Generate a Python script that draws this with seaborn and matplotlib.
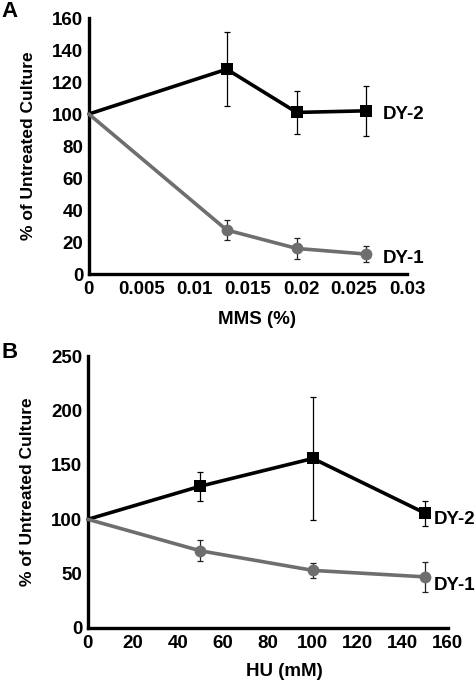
import matplotlib
matplotlib.use("Agg")
import matplotlib.pyplot as plt
import seaborn as sns
import pandas as pd

sns.set_theme(style="white")
plt.rcParams['font.family'] = ['Liberation Sans', 'DejaVu Sans']
plt.rcParams['font.weight'] = 'bold'
plt.rcParams['text.color'] = 'black'
plt.rcParams['axes.labelcolor'] = 'black'
plt.rcParams['xtick.color'] = 'black'
plt.rcParams['ytick.color'] = 'black'

# Panel A: MMS
mms_x = [0, 0.013, 0.0196, 0.0261]
mms_dy2 = [100, 128, 101, 102]
mms_dy2_err = [0, 23, 13.5, 15.5]
mms_dy1 = [100, 27.5, 16, 12.5]
mms_dy1_err = [0, 6, 6.5, 5]
mms_xticks = [0, 0.005, 0.01, 0.015, 0.02, 0.025, 0.03]
mms_xticklabels = ['0', '0.005', '0.01', '0.015', '0.02', '0.025', '0.03']
mms_yticks = [0, 20, 40, 60, 80, 100, 120, 140, 160]

# Panel B: HU
hu_x = [0, 50, 100, 150]
hu_dy2 = [100, 130.5, 156, 105.5]
hu_dy2_err = [0, 13.5, 56.5, 11.5]
hu_dy1 = [100, 71, 53, 47]
hu_dy1_err = [0, 9.7, 7, 14]
hu_xticks = [0, 20, 40, 60, 80, 100, 120, 140, 160]
hu_yticks = [0, 50, 100, 150, 200, 250]

BLACK = '#000000'
GRAY = '#6e6e6e'
FS = 13.5

fig = plt.figure(figsize=(4.75, 6.8), dpi=100)
axA = fig.add_axes([0.187, 0.597, 0.670, 0.3765])
axB = fig.add_axes([0.185, 0.0765, 0.758, 0.3995])


def draw(ax, x, dy2, e2, dy1, e1):
    df = pd.DataFrame({'x': x + x,
                       'y': dy2 + dy1,
                       'strain': ['DY-2'] * len(x) + ['DY-1'] * len(x)})
    for strain, ys, es, col, mk, ms in [('DY-2', dy2, e2, BLACK, 's', 8.5),
                                        ('DY-1', dy1, e1, GRAY, 'o', 8.5)]:
        ax.errorbar(x[1:], ys[1:], yerr=es[1:], fmt='none',
                    ecolor=col if strain == 'DY-2' else '#222222',
                    elinewidth=0.9, capsize=2.5, capthick=0.9, zorder=2)
        sub = df[df['strain'] == strain]
        sns.lineplot(data=sub, x='x', y='y', ax=ax, color=col, linewidth=2.6,
                     legend=False, zorder=3, estimator=None)
        sns.scatterplot(x=x[1:], y=ys[1:], ax=ax, color=col, marker=mk,
                        s=ms ** 2, linewidth=0, legend=False, zorder=4)
    for s in ['top', 'right']:
        ax.spines[s].set_visible(False)
    for s in ['left', 'bottom']:
        ax.spines[s].set_linewidth(2.4)
        ax.spines[s].set_color('black')
    ax.tick_params(axis='x', direction='in', length=4, width=1.2, colors='black',
                   labelsize=FS, pad=5)
    ax.tick_params(axis='y', direction='out', length=0, width=1.2, colors='black',
                   labelsize=FS, pad=4)
    ax.set_ylabel('% of Untreated Culture', fontsize=12.5, fontweight='bold')
    ax.yaxis.set_label_coords(-0.167 if ax is axA else -0.147, 0.5)


draw(axA, mms_x, mms_dy2, mms_dy2_err, mms_dy1, mms_dy1_err)
axA.set_xlim(0, 0.03)
axA.set_ylim(0, 160)
axA.set_xticks(mms_xticks)
axA.set_xticklabels(mms_xticklabels, fontweight='bold')
axA.set_yticks(mms_yticks)
axA.set_yticklabels([str(v) for v in mms_yticks], fontweight='bold')
axA.set_xlabel('MMS (%)', fontsize=FS, fontweight='bold')
axA.xaxis.set_label_coords(0.53, -0.145)
axA.text(0.0277, 100, 'DY-2', fontsize=FS, fontweight='bold', va='center', ha='left')
axA.text(0.0277, 10, 'DY-1', fontsize=FS, fontweight='bold', va='center', ha='left')

draw(axB, hu_x, hu_dy2, hu_dy2_err, hu_dy1, hu_dy1_err)
axB.set_xlim(0, 160)
axB.set_ylim(0, 250)
axB.set_xticks(hu_xticks)
axB.set_xticklabels([str(v) for v in hu_xticks], fontweight='bold')
axB.set_yticks(hu_yticks)
axB.set_yticklabels([str(v) for v in hu_yticks], fontweight='bold')
axB.set_xlabel('HU (mM)', fontsize=FS, fontweight='bold')
axB.xaxis.set_label_coords(0.547, -0.128)
axB.text(153.5, 100, 'DY-2', fontsize=FS, fontweight='bold', va='center', ha='left')
axB.text(153.5, 39, 'DY-1', fontsize=FS, fontweight='bold', va='center', ha='left')
for a in (axA, axB):
    for c in a.get_children():
        try:
            c.set_clip_on(False)
        except Exception:
            pass

fig.text(0.004, 0.983, 'A', fontsize=16, fontweight='bold', va='center', ha='left')
fig.text(0.004, 0.482, 'B', fontsize=16, fontweight='bold', va='center', ha='left')

fig.savefig('out.png', dpi=100)
